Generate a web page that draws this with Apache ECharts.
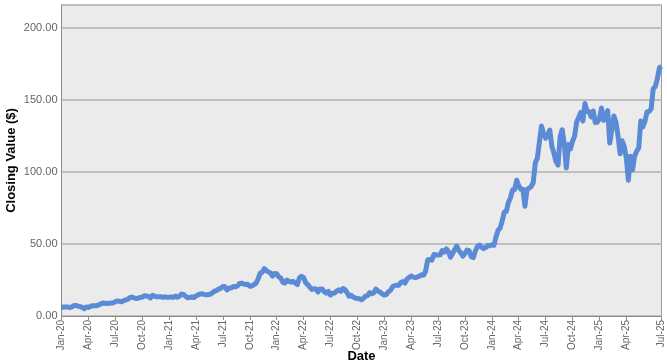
<!DOCTYPE html>
<html>
<head>
<meta charset="utf-8">
<script src="https://cdn.jsdelivr.net/npm/echarts@6/dist/echarts.min.js"></script>
<style>
html,body{margin:0;padding:0;background:#fff;}
#chart{width:667px;height:364px;}
</style>
</head>
<body>
<div id="chart"></div>
<script>
// Weekly closing values (week-ending)
const v2020 = [5.90, 6.21, 6.30, 6.18, 5.91,
  6.34, 7.34, 7.38, 6.74,
  6.55, 6.05, 5.05, 6.20,
  5.97, 6.60, 7.20, 7.10,
  7.10, 7.80, 8.30, 9.05, 8.90,
  8.70, 8.80, 9.10, 9.10,
  9.90, 10.50, 10.20, 9.90, 10.60,
  11.20, 11.60, 12.70, 13.20,
  12.60, 12.20, 12.30, 12.90,
  13.10, 14.10, 13.90, 13.60, 12.50,
  14.30, 13.70, 13.30, 13.40,
  13.40, 12.90, 13.30, 13.00, 13.05];
const v2021 = [13.30, 12.90, 13.90, 13.00,
  13.70, 15.20, 14.90, 13.70,
  12.60, 12.90, 13.20, 12.80,
  13.90, 14.70, 15.30, 15.40, 15.00,
  14.80, 14.80, 15.20, 16.20,
  17.30, 17.70, 18.80, 19.20,
  20.50, 20.30, 18.10, 19.50, 19.50,
  20.50, 20.20, 20.80, 22.60,
  22.80, 22.20, 21.90, 22.10,
  20.70, 20.90, 21.80, 22.70, 25.60,
  29.70, 30.40, 32.90, 31.50,
  30.60, 30.00, 27.70, 29.60, 29.40];
const v2022 = [27.20, 26.40, 23.30, 22.90,
  25.00, 24.10, 23.60, 24.10,
  22.90, 21.80, 26.40, 27.60,
  26.70, 23.20, 21.80, 20.10, 18.50,
  18.90, 18.70, 16.70, 18.80,
  18.70, 16.90, 15.90, 17.10,
  14.50, 15.80, 16.00, 17.30, 18.20,
  17.10, 19.00, 18.40, 16.30,
  13.70, 14.40, 13.10, 12.50, 12.10,
  12.00, 11.30, 12.40, 13.80,
  14.20, 16.30, 15.40, 16.30,
  18.70, 17.20, 16.60, 15.30, 14.60];
const v2023 = [14.90, 16.80, 17.80, 20.30,
  21.10, 21.30, 21.40, 23.30,
  23.90, 22.90, 25.70, 26.70, 27.80,
  27.00, 26.70, 27.10, 27.70,
  28.70, 28.30, 31.20, 38.90,
  39.30, 38.80, 42.70, 42.30, 42.30,
  42.50, 45.50, 44.40, 46.70,
  44.70, 40.90, 43.30, 46.00,
  48.50, 45.60, 43.90, 41.60, 43.50,
  45.80, 45.40, 41.30, 40.50,
  45.00, 48.30, 49.30, 47.80,
  46.80, 47.50, 48.90, 48.80, 49.50];
const v2024 = [49.10, 54.70, 59.50, 61.00,
  66.10, 72.10, 72.60, 78.90,
  82.20, 87.50, 87.80, 94.30, 90.40,
  88.00, 88.10, 76.20, 87.80,
  88.80, 89.90, 92.50, 106.50, 109.60,
  120.90, 131.90, 126.60, 123.50,
  125.80, 129.20, 117.90, 113.10,
  107.30, 104.80, 124.60, 129.40, 119.40,
  102.80, 119.10, 116.00, 121.40,
  124.90, 134.80, 138.00, 141.50,
  135.40, 147.60, 142.00, 142.00, 138.30,
  142.40, 134.30, 134.70, 137.00];
const v2025 = [144.50, 135.90, 137.70, 142.60, 120.10,
  129.80, 138.90, 134.40, 124.90,
  112.70, 121.70, 117.70, 109.70,
  94.30, 110.90, 101.50, 111.00,
  114.50, 116.70, 135.40, 131.30, 135.10,
  141.70, 142.00, 143.90, 157.80,
  159.30, 164.90, 172.40, 173.50];

const tickLabels = ['Jan-20','Apr-20','Jul-20','Oct-20','Jan-21','Apr-21','Jul-21','Oct-21',
  'Jan-22','Apr-22','Jul-22','Oct-22','Jan-23','Apr-23','Jul-23','Oct-23',
  'Jan-24','Apr-24','Jul-24','Oct-24','Jan-25','Apr-25','Jul-25'];
const yTicks = [0, 50, 100, 150, 200];

const values = [].concat(v2020, v2021, v2022, v2023, v2024, v2025);
// weekly category dates starting at the first week of 2020
const categories = values.map(function (_, i) {
  const d = new Date(Date.UTC(2020, 0, 3) + i * 7 * 86400000);
  return d.toISOString().slice(0, 10);
});
const last = values.length - 1;
const perQuarter = 13;
function showTick(i) {
  return (i % perQuarter === 0 && i / perQuarter < tickLabels.length - 1) || i === last;
}
function labelFor(i) {
  if (i === last) return tickLabels[tickLabels.length - 1];
  return tickLabels[i / perQuarter] || '';
}

const chart = echarts.init(document.getElementById('chart'), null, {renderer: 'canvas'});
chart.setOption({
  animation: false,
  backgroundColor: '#ffffff',
  grid: {left: 61.5, right: 5.5, top: 5, bottom: 48, show: true, containLabel: false,
    outerBoundsMode: 'none',
    backgroundColor: '#ebebeb', borderColor: '#a0a0a0', borderWidth: 1},
  xAxis: {
    type: 'category', data: categories, boundaryGap: false,
    axisLine: {show: true, lineStyle: {color: '#8c8c8c', width: 1}},
    axisTick: {show: true, interval: function (i) { return showTick(i); }, length: 4,
      lineStyle: {color: '#8c8c8c'}},
    axisLabel: {interval: function (i) { return showTick(i); }, rotate: 90,
      formatter: function (v, i) { return labelFor(i); },
      color: '#666666', fontSize: 10, fontFamily: 'Liberation Sans', margin: 4},
    splitLine: {show: false},
    name: 'Date', nameLocation: 'middle', nameGap: 34, nameMoveOverlap: false,
    nameTextStyle: {fontWeight: 'bold', fontSize: 13, color: '#000', fontFamily: 'Liberation Sans',
      verticalAlign: 'top'}
  },
  yAxis: {
    type: 'value', min: 0, max: 216, interval: 50,
    axisLine: {show: true, lineStyle: {color: '#8c8c8c'}},
    axisTick: {show: false},
    axisLabel: {formatter: function (v) { return yTicks.indexOf(v) >= 0 ? v.toFixed(2) : ''; },
      showMaxLabel: false, color: '#666666', fontSize: 11, fontFamily: 'Liberation Sans', margin: 4},
    splitLine: {show: true, lineStyle: {color: '#bfbfbf', width: 2}},
    name: 'Closing Value ($)', nameLocation: 'middle', nameGap: 44, nameRotate: 90,
    nameMoveOverlap: false,
    nameTextStyle: {fontWeight: 'bold', fontSize: 13, color: '#000', fontFamily: 'Liberation Sans'}
  },
  series: [{
    type: 'line', data: values, showSymbol: false, smooth: false,
    lineStyle: {color: '#5b8bd6', width: 5, join: 'round'},
    itemStyle: {color: '#5b8bd6'}
  }]
});
</script>
</body>
</html>
